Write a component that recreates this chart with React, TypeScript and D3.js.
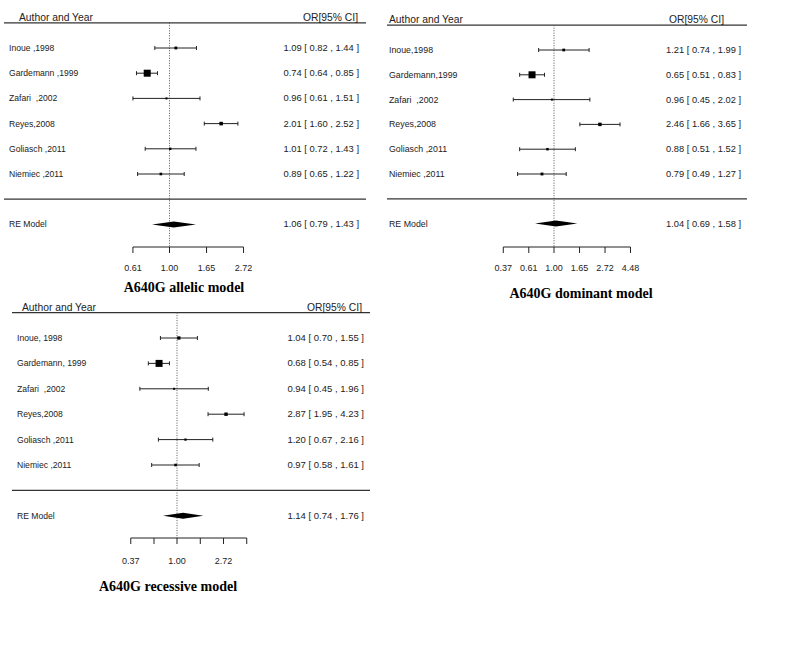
import React from "react";
import * as d3 from "d3";

// ---------- DATA ----------
const allelicLabels = ["Inoue ,1998", "Gardemann ,1999", "Zafari  ,2002", "Reyes,2008", "Goliasch ,2011", "Niemiec ,2011"];
const allelicOR = [1.09, 0.74, 0.96, 2.01, 1.01, 0.89];
const allelicLo = [0.82, 0.64, 0.61, 1.60, 0.72, 0.65];
const allelicHi = [1.44, 0.85, 1.51, 2.52, 1.43, 1.22];
const allelicW = [12, 47, 5, 18, 8, 10];
const allelicRE = [1.06, 0.79, 1.43];
const allelicTicks = [0.61, 1.0, 1.65, 2.72];
const allelicTickLabels = ["0.61", "1.00", "1.65", "2.72"];

const dominantLabels = ["Inoue,1998", "Gardemann,1999", "Zafari  ,2002", "Reyes,2008", "Goliasch ,2011", "Niemiec ,2011"];
const dominantOR = [1.21, 0.65, 0.96, 2.46, 0.88, 0.79];
const dominantLo = [0.74, 0.51, 0.45, 1.66, 0.51, 0.49];
const dominantHi = [1.99, 0.83, 2.02, 3.65, 1.52, 1.27];
const dominantW = [11, 46, 5, 17, 9, 12];
const dominantRE = [1.04, 0.69, 1.58];
const dominantTicks = [0.37, 0.61, 1.0, 1.65, 2.72, 4.48];
const dominantTickLabels = ["0.37", "0.61", "1.00", "1.65", "2.72", "4.48"];

const recessiveLabels = ["Inoue, 1998", "Gardemann, 1999", "Zafari  ,2002", "Reyes,2008", "Goliasch ,2011", "Niemiec ,2011"];
const recessiveOR = [1.04, 0.68, 0.94, 2.87, 1.20, 0.97];
const recessiveLo = [0.70, 0.54, 0.45, 1.95, 0.67, 0.58];
const recessiveHi = [1.55, 0.85, 1.96, 4.23, 2.16, 1.61];
const recessiveW = [15, 47, 4, 16, 6, 9];
const recessiveRE = [1.14, 0.74, 1.76];
const recessiveTicks = [0.37, 0.61, 1.0, 1.65, 2.72, 4.48];
const recessiveTickLabels = ["0.37", "", "1.00", "", "2.72", ""];

const titles = ["A640G allelic model", "A640G dominant model", "A640G recessive model"];

const fmt = d3.format(".2f");
const SANS = "'Liberation Sans', Arial, sans-serif";
const SERIF = "'Liberation Serif', 'Times New Roman', serif";

type PanelProps = {
  labels: string[]; or: number[]; lo: number[]; hi: number[]; w: number[];
  re: number[]; ticks: number[]; tickLabels: string[]; title: string;
  left: number; right: number; rowTop: number; rowStep: number;
  cx: number; pxPerLn: number; axisY: number; tickLabelY: number; titleX: number; titleY: number;
  labelX: number; headX: number; estRight: number; headRight: number; fs: number; efs: number;
};

function Panel(p: PanelProps) {
  const x = d3.scaleLog().base(Math.E).domain([1, Math.E]).range([p.cx, p.cx + p.pxPerLn]);
  const y = d3.scaleLinear().domain([0, 1]).range([p.rowTop, p.rowTop + p.rowStep]);
  const box = d3.scaleLinear().domain([d3.min(p.w)!, d3.max(p.w)!]).range([2, 7]);
  const headY = y(-1);
  const sepY = y(6);
  const reY = y(7);
  const stroke = "#222";
  const [reEst, reLo, reHi] = p.re;
  const dh = 3;
  const diamond = [[x(reLo), reY], [x(reEst), reY - dh], [x(reHi), reY], [x(reEst), reY + dh]];
  const pre = { whiteSpace: "pre" } as React.CSSProperties;
  return (
    <g>
      <line x1={p.left} x2={p.right} y1={headY} y2={headY} stroke="#333" strokeWidth={1.2} />
      <text x={p.headX} y={headY - 2} fontSize={10.3} fontFamily={SANS} fill="#222">Author and Year</text>
      <text x={p.headRight} y={headY - 2} fontSize={10.3} fontFamily={SANS} fill="#222" textAnchor="end">OR[95% CI]</text>
      <line x1={p.cx} x2={p.cx} y1={headY} y2={p.axisY} stroke="#555" strokeWidth={1} strokeDasharray="1,1.5" />
      {p.labels.map((lab, i) => {
        const yy = y(i);
        const s = box(p.w[i]);
        return (
          <g key={i}>
            <text x={p.labelX} y={yy + 3} fontSize={p.fs} fontFamily={SANS} fill="#222" style={pre}>{lab}</text>
            <line x1={x(p.lo[i])} x2={x(p.hi[i])} y1={yy} y2={yy} stroke={stroke} strokeWidth={1} />
            <line x1={x(p.lo[i])} x2={x(p.lo[i])} y1={yy - 2} y2={yy + 2} stroke={stroke} strokeWidth={1} />
            <line x1={x(p.hi[i])} x2={x(p.hi[i])} y1={yy - 2} y2={yy + 2} stroke={stroke} strokeWidth={1} />
            <rect x={x(p.or[i]) - s / 2} y={yy - s / 2} width={s} height={s} fill="#000" />
            <text x={p.estRight} y={yy + 3} fontSize={p.efs} fontFamily={SANS} fill="#222" textAnchor="end" style={pre}>
              {`${fmt(p.or[i])} [ ${fmt(p.lo[i])} , ${fmt(p.hi[i])} ]`}
            </text>
          </g>
        );
      })}
      <line x1={p.left} x2={p.right} y1={sepY} y2={sepY} stroke="#333" strokeWidth={1.2} />
      <text x={p.labelX} y={reY + 3} fontSize={p.fs} fontFamily={SANS} fill="#222">RE Model</text>
      <polygon points={diamond.map((d) => d.join(",")).join(" ")} fill="#000" />
      <text x={p.estRight} y={reY + 3} fontSize={p.efs} fontFamily={SANS} fill="#222" textAnchor="end" style={pre}>
        {`${fmt(reEst)} [ ${fmt(reLo)} , ${fmt(reHi)} ]`}
      </text>
      <line x1={x(p.ticks[0])} x2={x(p.ticks[p.ticks.length - 1])} y1={p.axisY} y2={p.axisY} stroke="#222" strokeWidth={1} />
      {p.ticks.map((t, i) => (
        <g key={i}>
          <line x1={x(t)} x2={x(t)} y1={p.axisY} y2={p.axisY + 6} stroke="#222" strokeWidth={1} />
          {p.tickLabels[i] && (
            <text x={x(t)} y={p.tickLabelY} fontSize={9} fontFamily={SANS} fill="#222" textAnchor="middle">{p.tickLabels[i]}</text>
          )}
        </g>
      ))}
      <text x={p.titleX} y={p.titleY} fontSize={14} fontWeight="bold" fontFamily={SERIF} fill="#000" textAnchor="middle">{p.title}</text>
    </g>
  );
}

export default function App() {
  return (
    <svg width={796} height={648} style={{ position: "absolute", left: 0, top: 0, background: "#fff" }}>
      <rect width={796} height={648} fill="#fff" />
      <Panel labels={allelicLabels} or={allelicOR} lo={allelicLo} hi={allelicHi} w={allelicW} re={allelicRE}
        ticks={allelicTicks} tickLabels={allelicTickLabels} title={titles[0]}
        left={4} right={366} rowTop={48} rowStep={25.2} cx={169.5} pxPerLn={74} axisY={247} tickLabelY={271}
        titleX={184} titleY={292} labelX={9} headX={19} estRight={359} headRight={358} fs={8.6} efs={9.4} />
      <Panel labels={dominantLabels} or={dominantOR} lo={dominantLo} hi={dominantHi} w={dominantW} re={dominantRE}
        ticks={dominantTicks} tickLabels={dominantTickLabels} title={titles[1]}
        left={387} right={747} rowTop={50} rowStep={24.8} cx={554} pxPerLn={51} axisY={247} tickLabelY={271}
        titleX={581} titleY={298} labelX={389} headX={389} estRight={741} headRight={724} fs={8.8} efs={9.3} />
      <Panel labels={recessiveLabels} or={recessiveOR} lo={recessiveLo} hi={recessiveHi} w={recessiveW} re={recessiveRE}
        ticks={recessiveTicks} tickLabels={recessiveTickLabels} title={titles[2]}
        left={12} right={370} rowTop={338} rowStep={25.4} cx={177} pxPerLn={46.5} axisY={538} tickLabelY={564}
        titleX={168} titleY={591} labelX={17} headX={22} estRight={364} headRight={362} fs={8.6} efs={9.5} />
    </svg>
  );
}
